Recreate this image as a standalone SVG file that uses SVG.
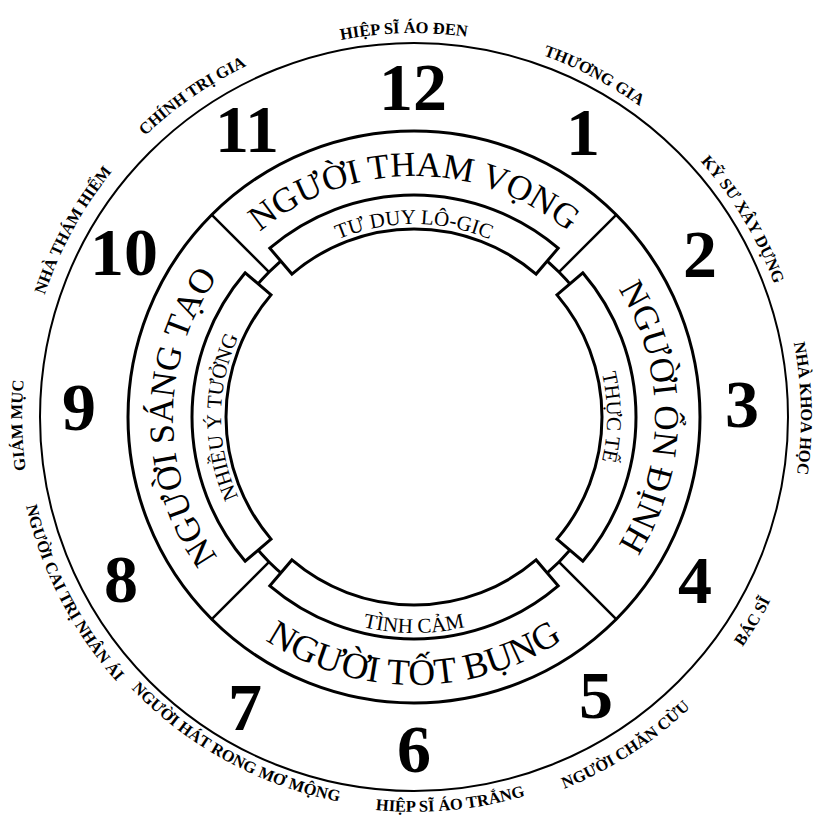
<svg xmlns="http://www.w3.org/2000/svg" width="817" height="820" viewBox="0 0 817 820">
<style>
.ln{fill:none;stroke:#000}
.box{fill:#fff;stroke:#000;stroke-width:3}
.num{font-family:"Liberation Serif",serif;font-weight:bold;font-size:68px;text-anchor:middle;fill:#000}
.band{font-family:"Liberation Serif",serif;font-size:35px;text-anchor:middle;fill:#000}
.sub{font-family:"Liberation Serif",serif;font-size:21px;text-anchor:middle;fill:#000}
.lbl{font-family:"Liberation Serif",serif;font-weight:bold;font-size:16.5px;text-anchor:middle;fill:#000}
</style>
<defs>
<path id="boxshape" d="M269.82,248.19 A222,222 0 0 1 558.18,248.19 L536.10,274.04 A188,188 0 0 0 291.90,274.04 Z"/>
<path id="cw241" d="M173,417 A241,241 0 0 1 655,417"/>
<path id="ccw268" d="M146,417 A268,268 0 0 0 682,417"/>
<path id="cw193" d="M221,417 A193,193 0 0 1 607,417"/>
<path id="ccw216" d="M198,417 A216,216 0 0 0 630,417"/>
<path id="cw384" d="M30,417 A384,384 0 0 1 798,417"/>
<path id="cw387" d="M27,417 A387,387 0 0 1 801,417"/>
<path id="cw389" d="M25,417 A389,389 0 0 1 803,417"/>
<path id="cw392" d="M22,417 A392,392 0 0 1 806,417"/>
<path id="ccw392" d="M22,417 A392,392 0 0 0 806,417"/>
<path id="ccw395" d="M19,417 A395,395 0 0 0 809,417"/>
<path id="ccw398" d="M16,417 A398,398 0 0 0 812,417"/>
<path id="ccw401" d="M13,417 A401,401 0 0 0 815,417"/>
</defs>
<rect width="817" height="820" fill="#fff"/>

<g id="rings">
<circle class="ln" cx="414" cy="417" r="374" stroke-width="2"/>
<circle class="ln" cx="414" cy="417" r="286" stroke-width="3"/>
<circle class="ln" cx="414" cy="417" r="205" stroke-width="3"/>
</g>

<g id="connectors" class="ln" stroke-width="2.5">
<line x1="558.9" y1="272.1" x2="616.2" y2="214.8"/>
<line x1="558.9" y1="561.9" x2="616.2" y2="619.2"/>
<line x1="269.1" y1="561.9" x2="211.8" y2="619.2"/>
<line x1="269.1" y1="272.1" x2="211.8" y2="214.8"/>
</g>

<g id="band-top"><text class="band"><textPath href="#cw241" startOffset="50%">NGƯỜI THAM VỌNG</textPath></text></g>
<g id="band-right" transform="rotate(90 414 417)"><text class="band"><textPath href="#cw241" startOffset="50%">NGƯỜI ỔN ĐỊNH</textPath></text></g>
<g id="band-bottom"><text class="band" style="font-size:37px"><textPath href="#ccw268" startOffset="50%">NGƯỜI TỐT BỤNG</textPath></text></g>
<g id="band-left" transform="rotate(-90 414 417)"><text class="band"><textPath href="#cw241" startOffset="50%">NGƯỜI SÁNG TẠO</textPath></text></g>

<g id="box-top"><use href="#boxshape" class="box"/><text class="sub"><textPath href="#cw193" startOffset="50%">TƯ DUY LÔ-GIC</textPath></text></g>
<g id="box-right" transform="rotate(90 414 417)"><use href="#boxshape" class="box"/><text class="sub"><textPath href="#cw193" startOffset="50%">THỰC TẾ</textPath></text></g>
<g id="box-bottom"><use href="#boxshape" class="box" transform="rotate(180 414 417)"/><text class="sub"><textPath href="#ccw216" startOffset="50%">TÌNH CẢM</textPath></text></g>
<g id="box-left" transform="rotate(-90 414 417)"><use href="#boxshape" class="box"/><text class="sub"><textPath href="#cw193" startOffset="50%">NHIỀU Ý TƯỞNG</textPath></text></g>

<g id="numbers">
<text class="num" x="413" y="110">12</text>
<text class="num" x="583" y="155">1</text>
<text class="num" x="700" y="277">2</text>
<text class="num" x="742" y="427">3</text>
<text class="num" x="695" y="603">4</text>
<text class="num" x="596" y="718">5</text>
<text class="num" x="414" y="772">6</text>
<text class="num" x="245" y="730">7</text>
<text class="num" x="121" y="602">8</text>
<text class="num" x="79" y="430">9</text>
<text class="num" x="124" y="275">10</text>
<text class="num" x="247" y="152">11</text>
</g>

<g id="lbl-12" transform="rotate(-1.5 414 417)"><text class="lbl"><textPath href="#cw384" startOffset="50%">HIỆP SĨ ÁO ĐEN</textPath></text></g>
<g id="lbl-1" transform="rotate(27.8 414 417)"><text class="lbl"><textPath href="#cw384" startOffset="50%">THƯƠNG GIA</textPath></text></g>
<g id="lbl-2" transform="rotate(59 414 417)"><text class="lbl"><textPath href="#cw384" startOffset="50%">KỸ SƯ XÂY DỰNG</textPath></text></g>
<g id="lbl-3" transform="rotate(88.7 414 417)"><text class="lbl"><textPath href="#cw387" startOffset="50%">NHÀ KHOA HỌC</textPath></text></g>
<g id="lbl-4" transform="rotate(-58.9 414 417)"><text class="lbl"><textPath href="#ccw401" startOffset="50%">BÁC SĨ</textPath></text></g>
<g id="lbl-5" transform="rotate(-32.8 414 417)"><text class="lbl"><textPath href="#ccw401" startOffset="50%">NGƯỜI CHĂN CỪU</textPath></text></g>
<g id="lbl-6" transform="rotate(-5.4 414 417)"><text class="lbl"><textPath href="#ccw395" startOffset="50%">HIỆP SĨ ÁO TRẮNG</textPath></text></g>
<g id="lbl-7" transform="rotate(28.6 414 417)"><text class="lbl"><textPath href="#ccw392" startOffset="50%">NGƯỜI HÁT RONG MƠ MỘNG</textPath></text></g>
<g id="lbl-8" transform="rotate(62.7 414 417)"><text class="lbl"><textPath href="#ccw398" startOffset="50%">NGƯỜI CAI TRỊ NHÂN ÁI</textPath></text></g>
<g id="lbl-9" transform="rotate(-91.2 414 417)"><text class="lbl"><textPath href="#cw392" startOffset="50%">GIÁM MỤC</textPath></text></g>
<g id="lbl-10" transform="rotate(-61.3 414 417)"><text class="lbl"><textPath href="#cw389" startOffset="50%">NHÀ THÁM HIỂM</textPath></text></g>
<g id="lbl-11" transform="rotate(-34.6 414 417)"><text class="lbl"><textPath href="#cw389" startOffset="50%">CHÍNH TRỊ GIA</textPath></text></g>
</svg>
